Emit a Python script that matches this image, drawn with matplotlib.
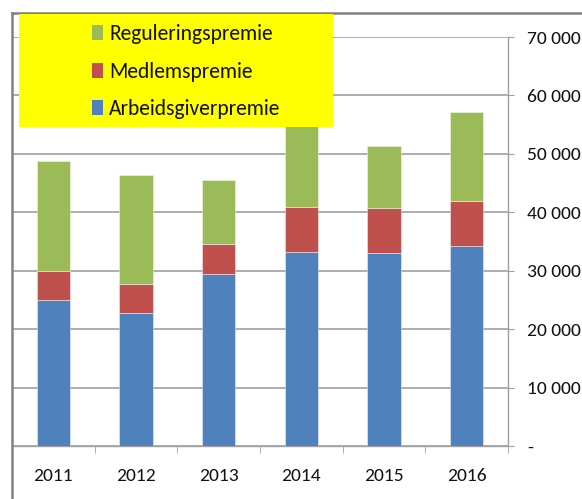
import numpy as np
import matplotlib
matplotlib.use('Agg')
import matplotlib.pyplot as plt
from matplotlib.patches import Rectangle, Patch
from matplotlib.lines import Line2D
from matplotlib.ticker import FuncFormatter

plt.rcParams['font.family'] = ['Carlito', 'DejaVu Sans']

years = ['2011', '2012', '2013', '2014', '2015', '2016']
arbeidsgiver = [25000, 22700, 29500, 33150, 33000, 34250]
medlem = [5000, 5100, 5100, 7700, 7700, 7650]
regulering = [18800, 18600, 11000, 15500, 10600, 15200]

labels = ['Arbeidsgiverpremie', 'Medlemspremie', 'Reguleringspremie']
colors = ['#4F81BD', '#C0504D', '#9BBB59']

W, H = 582, 499
fig = plt.figure(figsize=(W / 100, H / 100), dpi=100)
ax = fig.add_axes([12 / W, 1 - 446 / H, (508 - 12) / W, (446 - 37) / H])

x = np.arange(len(years))
bottom = np.zeros(len(years))
for vals, col, lab in zip([arbeidsgiver, medlem, regulering], colors, labels):
    ax.bar(x, vals, width=0.4, bottom=bottom, color=col, label=lab,
           edgecolor=(1, 1, 1, 0.5), linewidth=0.6, zorder=3)
    bottom += np.array(vals)

ax.set_xlim(-0.5, len(years) - 0.5)
ax.set_ylim(0, 70000)
ax.set_yticks(np.arange(0, 70001, 10000))
ax.yaxis.tick_right()
ax.yaxis.set_major_formatter(FuncFormatter(
    lambda v, p: '-' if v == 0 else f'{int(v):,}'.replace(',', ' ')))
ax.tick_params(axis='y', length=4, color='#a0a0a0', labelsize=14,
               labelcolor='#111111', pad=10)
ax.grid(axis='y', color='#a0a0a0', lw=1.2, zorder=0)

ax.set_xticks(x)
ax.set_xticklabels(years)
ax.set_xticks(np.arange(-0.5, len(years)), minor=True)
ax.tick_params(axis='x', which='major', length=0, labelsize=14,
               labelcolor='#111111', pad=16)
ax.tick_params(axis='x', which='minor', length=5, color='#a0a0a0')

for s in ['top', 'left']:
    ax.spines[s].set_visible(False)
for s in ['right', 'bottom']:
    ax.spines[s].set_color('#a0a0a0')
    ax.spines[s].set_linewidth(1.0)

# chart area border (top + left visible)
fig.add_artist(Line2D([12 / W, 1], [1 - 13 / H, 1 - 13 / H], color='#808080', lw=1.8))
fig.add_artist(Line2D([12 / W, 12 / W], [0, 1 - 13 / H], color='#808080', lw=1.8))

# yellow legend box
fig.add_artist(Rectangle((19 / W, 1 - 127 / H), (333 - 19) / W, (127 - 14) / H,
                         transform=fig.transFigure, facecolor='#ffff00',
                         edgecolor='none', zorder=4))
handles = [Patch(facecolor=c) for c in colors][::-1]
fig.legend(handles, labels[::-1], loc='upper left',
           bbox_to_anchor=(92 / W, 1 - 24 / H), frameon=False, fontsize=15.5,
           labelcolor='#111111', handlelength=0.5, handleheight=0.7,
           handletextpad=0.3, labelspacing=0.82, borderpad=0, borderaxespad=0)

fig.savefig('out.png', dpi=100)
